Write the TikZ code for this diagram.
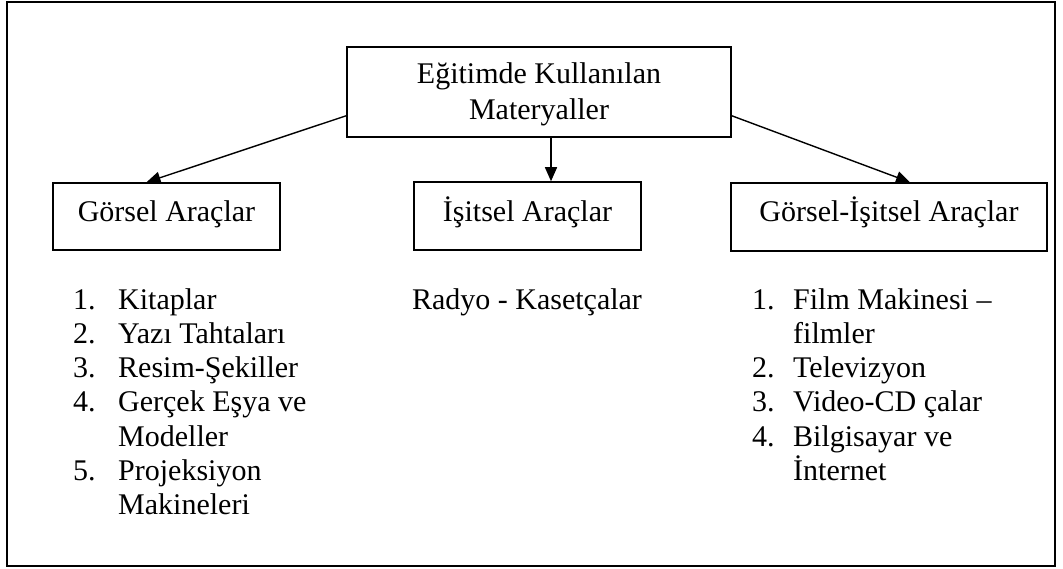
\documentclass[tikz,border=0pt]{standalone}
\usepackage{fontspec}
\setmainfont{Liberation Serif}
\usetikzlibrary{arrows.meta}
\begin{document}
\begin{tikzpicture}[x=1pt,y=-1pt,
  every node/.style={font=\fontsize{30}{34.5}\selectfont, inner sep=0pt},
  box/.style={draw, line width=1.5pt, rectangle},
  lbl/.style={anchor=base},
  itm/.style={anchor=base west},
  conn/.style={line width=1.4pt, -{Triangle[length=14pt,width=12pt]}}]
\useasboundingbox (0,0) rectangle (1063,569);
\draw[line width=1.7pt] (7,2) rectangle (1055,566);
% boxes
\node[box, minimum width=384pt, minimum height=90pt] (top) at (539,92) {};
\node[lbl] (t1) at (539,84) {Eğitimde Kullanılan};
\node[lbl] (t2) at (539,120) {Materyaller};
\node[box, minimum width=227pt, minimum height=67pt] (left) at (166.5,216.5) {};
\node[lbl] (lt) at (166.5,222) {Görsel Araçlar};
\node[box, minimum width=227pt, minimum height=68pt] (mid) at (527.5,216) {};
\node[lbl] (mt) at (527.5,222) {İşitsel Araçlar};
\node[box, minimum width=316pt, minimum height=68pt] (right) at (889,217) {};
\node[lbl] (rt) at (889,222) {Görsel-İşitsel Araçlar};
% connectors
\draw[conn] ([yshift=22pt]top.south west) -- ([xshift=-20pt]left.north);
\draw[conn] ([xshift=12pt]top.south) -- ([xshift=23.5pt]mid.north);
\draw[conn] ([yshift=22pt]top.south east) -- ([xshift=21pt]right.north);
% left list
\node[itm] (ln1) at (73,309) {1.};
\node[itm] (li1) at (118,309) {Kitaplar};
\node[itm] (ln2) at (73,343.3) {2.};
\node[itm] (li2) at (118,343.3) {Yazı Tahtaları};
\node[itm] (ln3) at (73,377.6) {3.};
\node[itm] (li3) at (118,377.6) {Resim-Şekiller};
\node[itm] (ln4) at (73,411.9) {4.};
\node[itm] (li4) at (118,411.9) {Gerçek Eşya ve};
\node[itm] (li4b) at (118,446.2) {Modeller};
\node[itm] (ln5) at (73,480.5) {5.};
\node[itm] (li5) at (118,480.5) {Projeksiyon};
\node[itm] (li5b) at (118,514.8) {Makineleri};
% middle
\node[lbl] (radyo) at (527,309) {Radyo - Kasetçalar};
% right list
\node[itm] (rn1) at (752,309) {1.};
\node[itm] (ri1) at (793,309) {Film Makinesi –};
\node[itm] (ri1b) at (793,343.3) {filmler};
\node[itm] (rn2) at (752,377.6) {2.};
\node[itm] (ri2) at (793,377.6) {Televizyon};
\node[itm] (rn3) at (752,411.9) {3.};
\node[itm] (ri3) at (793,411.9) {Video-CD çalar};
\node[itm] (rn4) at (752,446.2) {4.};
\node[itm] (ri4) at (793,446.2) {Bilgisayar ve};
\node[itm] (ri4b) at (793,480.5) {İnternet};
\end{tikzpicture}
\end{document}
